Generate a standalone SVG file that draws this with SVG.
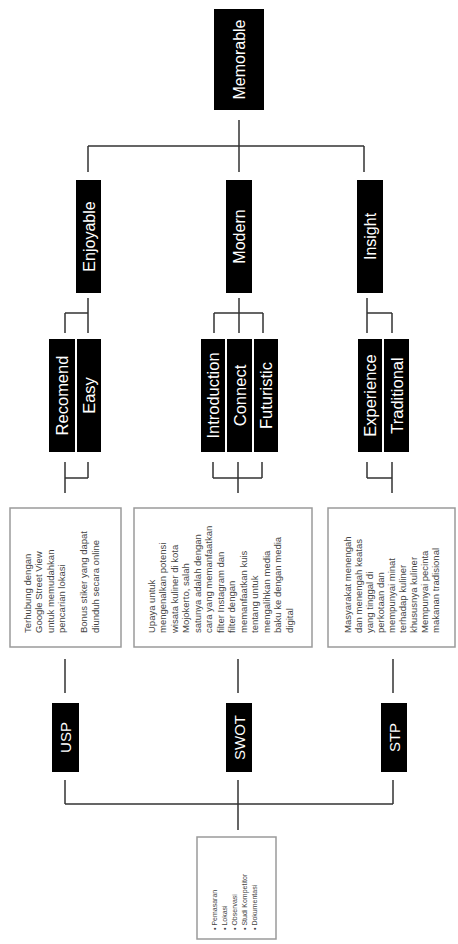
<svg xmlns="http://www.w3.org/2000/svg" width="458" height="944" viewBox="0 0 458 944">
<style>
.box{fill:#000}
.lbl{fill:#fff;font-family:"Liberation Sans",Arial,sans-serif;font-size:16.5px;text-anchor:middle}
.lbl16{font-size:16px}
.lbl15{font-size:15px}
.desc{fill:#fff;stroke:#9a9a9a;stroke-width:1.5}
.dt{fill:#444;font-family:"Liberation Sans",Arial,sans-serif;font-size:9.5px}
.bt{fill:#444;font-family:"Liberation Sans",Arial,sans-serif;font-size:7px}
.con{fill:none;stroke:#333;stroke-width:1.5}
</style>
<rect width="458" height="944" fill="#fff"/>
<g id="connectors" class="con">
<path d="M239 120V146M88 146H364M88 146V172M239 146V172M364 146V172"/>
<path d="M88 298V313M65 313H88M65 313V333M88 313V333"/>
<path d="M239 298V313M214 313H263M214 313V333M239 313V333M263 313V333"/>
<path d="M367 298V313M367 313H392M367 313V333M392 313V333"/>
<path d="M65 462V493M88 462V478M65 478H88"/>
<path d="M213 462V478M238 462V493M262 462V478M213 478H262"/>
<path d="M367 462V478M392 462V493M367 478H392"/>
<path d="M65 659V693M238 659V693M393 659V693"/>
<path d="M65 780V804M238 780V830M393 780V804M65 804H393"/>
</g>
<g id="memorable"><rect class="box" x="214" y="9" width="50" height="101"/><text class="lbl lbl16" transform="translate(244.5,59.5) rotate(-90)">Memorable</text></g>
<g id="enjoyable"><rect class="box" x="76" y="180" width="25" height="113"/><text class="lbl lbl16" transform="translate(94.5,236.5) rotate(-90)">Enjoyable</text></g>
<g id="modern"><rect class="box" x="226" y="180" width="26" height="113"/><text class="lbl lbl16" transform="translate(245,236.5) rotate(-90)">Modern</text></g>
<g id="insight"><rect class="box" x="357" y="180" width="26" height="113"/><text class="lbl lbl16" transform="translate(376,236.5) rotate(-90)">Insight</text></g>
<g id="recomend"><rect class="box" x="49" y="339" width="26" height="113"/><text class="lbl" transform="translate(68,395.5) rotate(-90)">Recomend</text></g>
<g id="easy"><rect class="box" x="77" y="339" width="24" height="113"/><text class="lbl" transform="translate(95,395.5) rotate(-90)">Easy</text></g>
<g id="introduction"><rect class="box" x="201" y="339" width="24" height="113"/><text class="lbl" transform="translate(219,395.5) rotate(-90)">Introduction</text></g>
<g id="connect"><rect class="box" x="227" y="339" width="25" height="113"/><text class="lbl" transform="translate(245.5,395.5) rotate(-90)">Connect</text></g>
<g id="futuristic"><rect class="box" x="254" y="339" width="24" height="113"/><text class="lbl" transform="translate(272,395.5) rotate(-90)">Futuristic</text></g>
<g id="experience"><rect class="box" x="358" y="339" width="24" height="113"/><text class="lbl" transform="translate(376,395.5) rotate(-90)">Experience</text></g>
<g id="traditional"><rect class="box" x="384" y="339" width="25" height="113"/><text class="lbl" transform="translate(402.5,395.5) rotate(-90)">Traditional</text></g>
<g id="usp-desc"><rect class="desc" x="10" y="508" width="111" height="139"/>
<text class="dt" transform="translate(30.5,633) rotate(-90)">Terhubung dengan</text>
<text class="dt" transform="translate(42,633) rotate(-90)">Google Street View</text>
<text class="dt" transform="translate(53.5,633) rotate(-90)">untuk memudahkan</text>
<text class="dt" transform="translate(65,633) rotate(-90)">pencarian lokasi</text>
<text class="dt" transform="translate(86.5,633) rotate(-90)">Bonus stiker yang dapat</text>
<text class="dt" transform="translate(98.5,633) rotate(-90)">diunduh secara online</text>
</g>
<g id="swot-desc"><rect class="desc" x="134" y="508" width="178" height="139"/>
<text class="dt" transform="translate(154.5,633) rotate(-90)">Upaya untuk</text>
<text class="dt" transform="translate(166,633) rotate(-90)">mengenalkan potensi</text>
<text class="dt" transform="translate(177.5,633) rotate(-90)">wisata kuliner di kota</text>
<text class="dt" transform="translate(189,633) rotate(-90)">Mojokerto, salah</text>
<text class="dt" transform="translate(200.5,633) rotate(-90)">satunya adalah dengan</text>
<text class="dt" transform="translate(212,633) rotate(-90)">cara yang memanfaatkan</text>
<text class="dt" transform="translate(223.5,633) rotate(-90)">filter Instagram dan</text>
<text class="dt" transform="translate(235,633) rotate(-90)">filter dengan</text>
<text class="dt" transform="translate(246.5,633) rotate(-90)">memanfaatkan kuis</text>
<text class="dt" transform="translate(258,633) rotate(-90)">tentang untuk</text>
<text class="dt" transform="translate(269.5,633) rotate(-90)">mengalihkan media</text>
<text class="dt" transform="translate(281,633) rotate(-90)">baku ke dengan media</text>
<text class="dt" transform="translate(292.5,633) rotate(-90)">digital</text>
</g>
<g id="stp-desc"><rect class="desc" x="328" y="508" width="127" height="139"/>
<text class="dt" transform="translate(350.5,633) rotate(-90)">Masyarakat menengah</text>
<text class="dt" transform="translate(361.5,633) rotate(-90)">dan menengah keatas</text>
<text class="dt" transform="translate(372.5,633) rotate(-90)">yang tinggal di</text>
<text class="dt" transform="translate(383.5,633) rotate(-90)">perkotaan dan</text>
<text class="dt" transform="translate(394.5,633) rotate(-90)">mempunyai minat</text>
<text class="dt" transform="translate(405.5,633) rotate(-90)">terhadap kuliner</text>
<text class="dt" transform="translate(416.5,633) rotate(-90)">khususnya kuliner</text>
<text class="dt" transform="translate(427.5,633) rotate(-90)">Mempunyai pecinta</text>
<text class="dt" transform="translate(438.5,633) rotate(-90)">makanan tradisional</text>
</g>
<g id="usp"><rect class="box" x="52" y="703" width="27" height="69"/><text class="lbl lbl15" transform="translate(71,737.5) rotate(-90)">USP</text></g>
<g id="swot"><rect class="box" x="226" y="703" width="26" height="69"/><text class="lbl lbl15" transform="translate(244.5,737.5) rotate(-90)">SWOT</text></g>
<g id="stp"><rect class="box" x="381" y="703" width="26" height="69"/><text class="lbl lbl15" transform="translate(399.5,737.5) rotate(-90)">STP</text></g>
<g id="research"><rect class="desc" x="197" y="837" width="79" height="102"/>
<text class="bt" transform="translate(217,930) rotate(-90)">• Pemasaran</text>
<text class="bt" transform="translate(227,930) rotate(-90)">• Lokasi</text>
<text class="bt" transform="translate(237,930) rotate(-90)">• Observasi</text>
<text class="bt" transform="translate(247,930) rotate(-90)">• Studi Kompetitor</text>
<text class="bt" transform="translate(257,930) rotate(-90)">• Dokumentasi</text>
</g>
</svg>
